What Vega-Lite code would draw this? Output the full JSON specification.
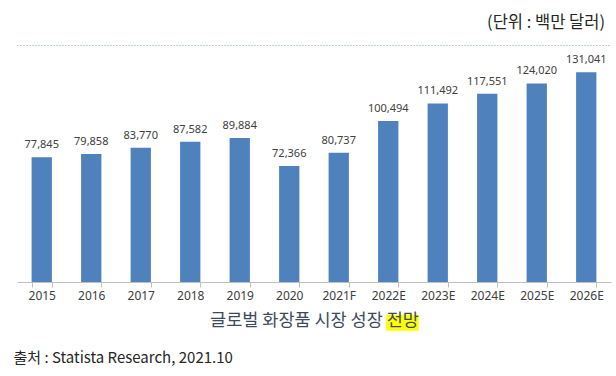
{
  "$schema": "https://vega.github.io/schema/vega-lite/v6.json",
  "width": 594,
  "height": 237,
  "autosize": {"type": "none"},
  "padding": {"left": 17, "top": 45, "right": 5, "bottom": 94},
  "background": "white",
  "config": {"view": {"stroke": null}},
  "title": {
    "text": "(단위 : 백만 달러)",
    "anchor": "end",
    "orient": "top",
    "frame": "group",
    "fontSize": 16.5,
    "fontWeight": "normal",
    "color": "#262626",
    "font": "Noto Sans CJK KR",
    "offset": 14,
    "dx": -6
  },
  "data": {
    "values": [
      {"year": "2015", "value": 77845},
      {"year": "2016", "value": 79858},
      {"year": "2017", "value": 83770},
      {"year": "2018", "value": 87582},
      {"year": "2019", "value": 89884},
      {"year": "2020", "value": 72366},
      {"year": "2021F", "value": 80737},
      {"year": "2022E", "value": 100494},
      {"year": "2023E", "value": 111492},
      {"year": "2024E", "value": 117551},
      {"year": "2025E", "value": 124020},
      {"year": "2026E", "value": 131041}
    ]
  },
  "layer": [
    {
      "data": {"values": [{"k": "hl"}]},
      "mark": {"type": "rect", "color": "#ffff00"},
      "encoding": {
        "x": {"datum": "2022E", "bandPosition": 0.4},
        "x2": {"datum": "2022E", "bandPosition": 2.0},
        "y": {"datum": -20500},
        "y2": {"datum": -30500}
      }
    },
    {
      "mark": {"type": "bar", "color": "#4f81bd"},
      "encoding": {
        "x": {
          "field": "year",
          "type": "nominal",
          "sort": null,
          "scale": {
            "domain": ["2015", "2016", "2017", "2018", "2019", "2020", "2021F", "2022E", "2023E", "2024E", "2025E", "2026E"],
            "paddingInner": 0.59,
            "paddingOuter": 0.295
          },
          "axis": {
            "orient": "bottom",
            "labelAngle": 0,
            "labelAlign": "center",
            "domainColor": "#bfbfbf",
            "tickColor": "#bfbfbf",
            "tickSize": 5,
            "tickBand": "extent",
            "labelFontSize": 12,
            "labelColor": "#404040",
            "labelFont": "Noto Sans",
            "labelPadding": 8,
            "title": "글로벌 화장품 시장 성장 전망",
            "titleFont": "Noto Sans CJK KR",
            "titleFontSize": 17.5,
            "titleFontWeight": "normal",
            "titleColor": "#3d4a5c",
            "titlePadding": 10,
            "zindex": 1
          }
        },
        "y": {
          "field": "value",
          "type": "quantitative",
          "scale": {"domain": [0, 148000], "nice": false, "zero": true},
          "axis": {
            "orient": "left",
            "labels": false,
            "ticks": false,
            "domain": false,
            "grid": true,
            "values": [148000],
            "gridDash": [1, 2],
            "gridColor": "#7f9cc0",
            "gridWidth": 1,
            "title": "출처 : Statista Research, 2021.10",
            "titleAngle": 0,
            "titleAlign": "left",
            "titleBaseline": "middle",
            "titleX": -4,
            "titleY": 312,
            "titleFont": "Noto Sans CJK KR",
            "titleFontSize": 15,
            "titleFontWeight": "normal",
            "titleColor": "#262626"
          }
        }
      }
    },
    {
      "mark": {"type": "text", "dy": -7, "fontSize": 11, "color": "#404040", "font": "Noto Sans", "baseline": "bottom"},
      "encoding": {
        "x": {"field": "year", "type": "nominal", "sort": null},
        "y": {"field": "value", "type": "quantitative"},
        "text": {"field": "value", "type": "quantitative", "format": ","}
      }
    }
  ]
}
